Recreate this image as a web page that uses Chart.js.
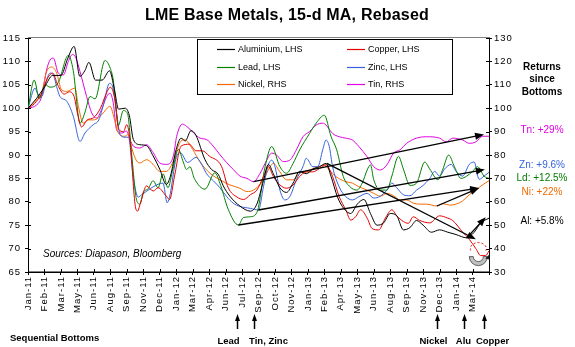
<!DOCTYPE html>
<html>
<head>
<meta charset="utf-8">
<script src="https://cdn.jsdelivr.net/npm/chart.js@4.4.1/dist/chart.umd.min.js"></script>
<style>
  html, body { margin: 0; padding: 0; background: #fff; }
</style>
</head>
<body>
<canvas id="metals" width="575" height="347"></canvas>
<script>
// category axis labels, one every ~30 trading days
const tickLabels = ['Jan-11', 'Feb-11', 'Mar-11', 'May-11', 'Jun-11', 'Aug-11', 'Sep-11', 'Nov-11', 'Dec-11',
  'Jan-12', 'Mar-12', 'Apr-12', 'Jun-12', 'Jul-12', 'Sep-12', 'Oct-12', 'Nov-12',
  'Jan-13', 'Feb-13', 'Apr-13', 'May-13', 'Jun-13', 'Aug-13', 'Sep-13', 'Nov-13', 'Dec-13',
  'Jan-14', 'Mar-14'];

// [period, value] - period counted in axis label steps, values rebased to 100
const aluminium = [[0,100],[0.5,102],[1,104.5],[1.5,107],[2.0,107],[2.4,110.5],[2.8,113.2],[3.15,106.8],[3.45,108],[3.7,109.8],
  [4.1,106],[4.5,106],[4.95,108],[5.25,104],[5.5,99.8],[5.9,100],[6.15,98.5],[6.4,93.3],[6.8,92.2],[7.2,92],[7.6,89.8],
  [8.0,87],[8.4,83.7],[8.65,85.5],[9.0,91.2],[9.3,93.6],[9.55,93],[9.9,95.2],[10.2,94.2],[10.75,89],[11.15,86.9],[11.55,85.9],
  [11.86,83.4],[12.26,81.2],[12.87,79.1],[13.5,78],[13.9,79.5],[14.3,84.5],[14.6,88],[14.9,86],[15.3,83],[15.7,82],[16.1,84],
  [16.5,86.5],[16.9,86],[17.3,87],[17.7,87.5],[18.1,88.2],[18.4,85.5],[18.8,81],[19.2,78.5],[19.6,77.5],[20.0,79.5],[20.4,80.5],
  [20.8,77.5],[21.2,75],[21.6,75.5],[22.0,77.5],[22.4,77],[22.8,74],[23.2,74.5],[23.6,76],[24.0,75],[24.5,73.5],[25.0,74],
  [25.5,73.5],[26.0,73],[26.65,72.3],[27.1,73.5],[27.5,75.5],[28,76.5]];

const copper = [[0,100],[0.4,101],[0.8,103],[1.2,106.5],[1.5,107.5],[1.8,105],[2.2,103],[2.5,103.5],[2.8,102.5],[3.0,99],
  [3.25,96],[3.6,97.5],[4.0,98],[4.4,100],[4.8,103.5],[5.0,104.5],[5.3,101.5],[5.5,95.5],[5.8,95],[6.0,96.5],[6.2,93],
  [6.5,79.5],[6.65,78],[6.85,80],[7.2,83.4],[7.6,82.3],[7.9,83],[8.4,81.2],[8.6,80.5],[8.9,85.5],[9.3,91.9],[9.8,92.3],
  [10.2,90.9],[10.6,90.9],[11.0,89.8],[11.75,87.6],[12.16,83],[12.7,81],[13.1,80.5],[13.5,81.5],[13.9,82.5],[14.3,85.4],
  [14.6,87.5],[14.9,85.4],[15.3,83.6],[15.7,82.9],[16.1,83.6],[16.5,85.4],[16.9,86.4],[17.3,86.4],[17.7,87.1],[18.1,87.9],
  [18.5,85.4],[18.9,81.1],[19.3,78.3],[19.6,76.1],[19.9,76.8],[20.2,78.3],[20.6,76.5],[20.9,74.3],[21.3,74],[21.7,76.5],
  [22.1,78.3],[22.4,77],[22.8,75.8],[23.1,75.4],[23.4,76.8],[23.8,76],[24.4,75.5],[25.0,77],[25.5,76.5],[25.8,76],
  [26.4,73.5],[26.8,72],[27.2,70],[27.5,68.5],[27.8,68.5],[28,69.5]];

const lead = [[0,100],[0.38,106],[0.69,102],[1.03,105],[1.34,104.5],[1.84,105.5],[2.45,111.3],[2.75,108],[3.16,96.8],
  [3.45,99],[3.77,102.5],[4.07,102],[4.68,110.2],[5.0,108.5],[5.18,106],[5.49,96.3],[5.79,99.5],[6.05,98.8],[6.3,90],
  [6.6,80.3],[6.8,79.5],[7.0,82],[7.3,82.8],[7.6,84.5],[7.9,83],[8.2,86],[8.5,83],[8.8,87],[9.13,91.2],[9.43,88.5],
  [9.63,86.9],[9.84,87.5],[10.1,85],[10.75,82.7],[11.35,86.2],[11.7,83.5],[12.16,78.4],[12.78,75.04],[13.07,76.6],
  [13.5,76.8],[13.9,77.7],[14.4,87.5],[14.8,91.8],[15.3,87.5],[15.7,86.1],[16.1,88.2],[16.5,91.1],[17.1,94.6],[17.5,96.8],
  [18.0,98.5],[18.4,94],[18.75,91.1],[19.15,85.4],[19.56,83.2],[19.97,82.5],[20.3,84],[20.6,86.8],[20.8,87.9],[21.0,84.7],
  [21.4,82.5],[21.8,82.5],[22.1,85.5],[22.5,89.7],[22.8,87],[23.2,83.5],[23.6,84],[24.1,88.5],[24.4,87],[24.9,84.7],
  [25.2,87],[25.55,90],[25.9,87.5],[26.3,85],[26.65,85.5],[27.0,86.5],[27.3,87.5],[27.7,85.5],[28,85]];

const zinc = [[0,100],[0.43,104.3],[0.57,103.2],[0.83,102.5],[1.13,106.1],[1.34,107.5],[1.54,107.1],[1.74,104.6],[1.94,102.5],
  [2.35,101.5],[2.75,98.3],[3.16,92.9],[3.46,94.7],[3.97,96.5],[4.3,97.5],[4.6,101],[4.95,105.3],[5.15,104.5],[5.38,99],
  [5.6,94.3],[5.9,93.8],[6.1,93.8],[6.4,85],[6.7,81],[6.9,81.5],[7.3,82.5],[7.6,83.2],[8.2,84],[8.45,79.8],[8.6,81],
  [9.0,89.4],[9.25,90.5],[9.7,88.4],[10.2,89.5],[10.45,88.6],[10.85,86],[11.25,84.5],[11.66,83],[12.07,81.1],[12.47,79.7],
  [12.88,79],[13.5,78.6],[14.0,78.25],[14.3,83.2],[14.6,87.9],[14.8,88.9],[15.0,87.5],[15.3,82.5],[15.6,80.4],[15.9,81.1],
  [16.3,84.7],[16.7,87.5],[16.9,89.3],[17.3,87.5],[17.6,87.5],[17.9,91.1],[18.1,93.2],[18.3,91.8],[18.5,87.5],[18.9,83.2],
  [19.3,81.1],[19.7,80.4],[20.1,81.1],[20.6,81.8],[21.0,80.8],[21.4,81.2],[21.8,82.5],[22.1,84],[22.4,83],[22.8,81.5],
  [23.2,81.3],[23.6,82.5],[24.0,83.5],[24.4,85],[24.7,86.5],[25.0,85.5],[25.3,87],[25.7,88],[26.0,86.5],[26.4,85.5],
  [26.8,88],[27.1,88.5],[27.4,84.8],[27.7,85.5],[28,86.3]];

// right-hand scale
const nickel = [[0,100],[0.53,103.6],[0.83,106.4],[1.13,115.6],[1.45,117.6],[1.74,115],[2.04,107.8],[2.35,107.2],[2.85,108.6],
  [3.06,100.8],[3.36,93.6],[3.66,95],[3.97,95],[4.27,95.8],[4.57,98],[4.98,100.8],[5.28,94.4],[5.49,89.4],[5.89,88],
  [6.09,88.8],[6.3,83],[6.6,77.4],[6.8,76.6],[7.2,78],[7.6,76],[8.0,73],[8.4,73],[8.8,77],[9.2,85],[9.5,86.6],[10.0,82.4],
  [10.45,77],[11.05,72.2],[11.66,69.4],[12.27,67.2],[12.87,65.8],[13.28,64.4],[13.7,65],[14.3,69.4],[14.7,75],[14.9,76.4],
  [15.3,72.8],[15.7,69.4],[16.1,69.4],[16.5,72.2],[16.9,72.8],[17.3,74.2],[17.7,75],[18.0,75.8],[18.3,73.6],[18.7,70.8],
  [19.3,68.6],[19.7,68],[20.1,66.4],[20.6,65],[21.0,63.6],[21.4,62.4],[21.8,63.6],[22.2,62.6],[22.6,60.8],[23.0,60.8],
  [23.4,59.4],[23.8,59],[24.2,59],[24.83,58.2],[25.2,59.2],[25.6,58.6],[26.0,59],[26.4,60.4],[26.8,63],[27.2,65],
  [27.6,67.2],[28,69]];

const tin = [[0,100],[0.53,101.4],[0.83,105],[1.13,116.4],[1.34,120.6],[1.54,121.4],[1.84,115],[2.15,114.2],[2.45,120],
  [2.7,123],[2.9,121.6],[3.16,115.6],[3.56,105],[3.87,98],[4.17,95.8],[4.47,99.4],[4.78,105],[4.98,106.4],[5.18,102.2],
  [5.38,90.8],[5.69,89.4],[5.99,90.2],[6.19,86.6],[6.4,83.8],[6.8,83],[7.2,84.4],[7.6,81],[8.0,76.6],[8.4,76],[8.83,79.6],
  [9.03,88],[9.38,93.2],[9.64,92.2],[10.04,89.6],[10.45,87.2],[10.85,86.6],[11.25,83.8],[11.65,80.2],[12.06,76.8],
  [12.47,73.8],[12.87,71],[13.3,70],[13.7,68.6],[14.1,72.2],[14.5,77.8],[14.8,80.8],[15.1,80],[15.5,77.2],[15.9,77.8],
  [16.3,82.2],[16.7,87.8],[17.1,90],[17.5,92.8],[17.9,93.6],[18.1,92.8],[18.5,89.2],[18.9,87.8],[19.3,87.2],[19.7,86.4],
  [20.1,83.6],[20.6,79.2],[21.0,75],[21.4,73.6],[21.8,75.8],[22.2,80.8],[22.6,82.2],[23.0,85],[23.6,87.2],[24.2,87.8],
  [25.0,87.2],[25.4,85.6],[25.8,87.2],[26.4,86.4],[26.8,85],[27.2,85.6],[27.6,88],[28,88]];

// trend arrows from each metal's bottom to the latest level
const trendArrows = [
  { axis: 'y2', from: [13.7, 68.6], to: [27.7, 88.8] },   // tin
  { axis: 'y', from: [13.99, 78.25], to: [27.75, 86.9] }, // zinc
  { axis: 'y', from: [12.78, 75.04], to: [27.4, 82.95] }, // lead
  { axis: 'y2', from: [24.83, 58.2], to: [27.4, 65.9] },  // nickel
  { axis: 'y', from: [26.65, 72.3], to: [27.8, 76.7] },   // aluminium
  { axis: 'y', from: [18.15, 88.2], to: [27.2, 72.0] }    // downtrend off the Feb-13 peak
];
const copperLow = [27.35, 70];

// where each sequential bottom happened
const bottomNames = ['Lead', 'Tin, Zinc', 'Nickel', 'Alu', 'Copper'];
const bottomPeriods = [12.72, 13.73, 24.83, 26.5, 27.72];

const returnTexts = ['Tn: +29%', 'Zn: +9.6%', 'Ld: +12.5%', 'Ni: +22%', 'Al: +5.8%'];

const FONT = '"Liberation Sans", Arial, sans-serif';
const tickFont = { family: FONT, size: 9.5 };

const series = [
  { label: 'Aluminium, LHS', data: aluminium, color: '#000000', axis: 'y' },
  { label: 'Copper, LHS', data: copper, color: '#e60000', axis: 'y' },
  { label: 'Lead, LHS', data: lead, color: '#008000', axis: 'y' },
  { label: 'Zinc, LHS', data: zinc, color: '#3562dc', axis: 'y' },
  { label: 'Nickel, RHS', data: nickel, color: '#f46a00', axis: 'y2' },
  { label: 'Tin, RHS', data: tin, color: '#e000e0', axis: 'y2' }
];

function arrow(ctx, x1, y1, x2, y2, head, width) {
  const a = Math.atan2(y2 - y1, x2 - x1);
  const c = Math.cos(a), s = Math.sin(a);
  ctx.beginPath();
  ctx.moveTo(x1, y1);
  ctx.lineTo(x2 - c * head * 0.8, y2 - s * head * 0.8);
  ctx.stroke();
  ctx.beginPath();
  ctx.moveTo(x2, y2);
  ctx.lineTo(x2 - head * c + width / 2 * s, y2 - head * s - width / 2 * c);
  ctx.lineTo(x2 - head * c - width / 2 * s, y2 - head * s + width / 2 * c);
  ctx.closePath();
  ctx.fill();
}

const decor = {
  id: 'decor',
  beforeDraw(chart) {
    const { ctx, chartArea: a } = chart;
    ctx.save();
    ctx.strokeStyle = '#808080';
    ctx.lineWidth = 1;
    ctx.strokeRect(a.left + 0.5, a.top - 0.5, a.right - a.left, a.bottom - a.top);
    ctx.restore();
    ctx.letterSpacing = '1px';
  },
  beforeDatasetsDraw(chart) {
    chart.ctx.letterSpacing = '0px';
  },
  afterDraw(chart) {
    const { ctx, chartArea: a, scales } = chart;
    const xs = scales.x;
    ctx.save();
    ctx.letterSpacing = '0px';

    // inner half of the cross tick marks
    ctx.strokeStyle = '#000';
    ctx.lineWidth = 1;
    ctx.beginPath();
    xs.ticks.forEach(t => {
      const px = Math.round(xs.getPixelForValue(t.value)) + 0.5;
      ctx.moveTo(px, a.bottom - 3); ctx.lineTo(px, a.bottom);
    });
    scales.y.ticks.forEach(t => {
      const py = Math.round(scales.y.getPixelForValue(t.value)) + 0.5;
      ctx.moveTo(a.left, py); ctx.lineTo(a.left + 3, py);
    });
    scales.y2.ticks.forEach(t => {
      const py = Math.round(scales.y2.getPixelForValue(t.value)) + 0.5;
      ctx.moveTo(a.right - 3, py); ctx.lineTo(a.right, py);
    });
    ctx.stroke();

    // title
    ctx.fillStyle = '#000';
    ctx.textAlign = 'center';
    ctx.textBaseline = 'middle';
    ctx.font = 'bold 16px ' + FONT;
    ctx.letterSpacing = '0.2px';
    ctx.fillText('LME Base Metals, 15-d MA, Rebased', 287, 16);
    ctx.letterSpacing = '0px';

    // legend box inside the plot
    ctx.fillStyle = '#fff';
    ctx.fillRect(197.5, 39.5, 255, 55);
    ctx.strokeStyle = '#000';
    ctx.strokeRect(197.5, 39.5, 255, 55);
    ctx.font = '9px ' + FONT;
    ctx.textAlign = 'left';
    const colX = [217, 347], rowY = [49.5, 67.5, 84.5];
    series.forEach((s, i) => {
      const x = colX[i % 2], y = rowY[Math.floor(i / 2)];
      ctx.strokeStyle = s.color;
      ctx.lineWidth = 1.2;
      ctx.beginPath(); ctx.moveTo(x, y); ctx.lineTo(x + 18, y); ctx.stroke();
      ctx.fillStyle = '#000';
      ctx.fillText(s.label, x + 21, y);
    });
    ctx.lineWidth = 1;

    // source note
    ctx.font = 'italic 10px ' + FONT;
    ctx.fillText('Sources: Diapason, Bloomberg', 43, 254);

    // trend arrows
    ctx.strokeStyle = '#000';
    ctx.fillStyle = '#000';
    ctx.lineWidth = 1.3;
    trendArrows.forEach(t => {
      const ys = scales[t.axis];
      arrow(ctx, xs.getPixelForValue(t.from[0]), ys.getPixelForValue(t.from[1]),
        xs.getPixelForValue(t.to[0]), ys.getPixelForValue(t.to[1]), 9, 7);
    });

    // copper rebound marker
    const cx = xs.getPixelForValue(copperLow[0]);
    const cy = scales.y.getPixelForValue(copperLow[1]);
    ctx.beginPath();
    ctx.arc(cx, cy + 8, 9, 0, Math.PI, false);
    ctx.arc(cx, cy + 8, 5, Math.PI, 0, true);
    ctx.closePath();
    ctx.fillStyle = '#c0c0c0';
    ctx.fill();
    ctx.strokeStyle = '#404040';
    ctx.lineWidth = 0.8;
    ctx.stroke();
    ctx.fillStyle = '#202020';
    ctx.beginPath();
    ctx.moveTo(cx + 11, cy + 6);
    ctx.lineTo(cx + 7, cy + 10);
    ctx.lineTo(cx + 11, cy + 11);
    ctx.closePath();
    ctx.fill();
    ctx.setLineDash([2, 2]);
    ctx.strokeStyle = '#e60000';
    ctx.lineWidth = 1;
    ctx.beginPath();
    ctx.ellipse(cx, cy, 8, 6, 0, Math.PI * 0.9, Math.PI * 2.1);
    ctx.stroke();
    ctx.setLineDash([]);

    // right-hand commentary
    ctx.textAlign = 'center';
    ctx.fillStyle = '#000';
    ctx.font = 'bold 10px ' + FONT;
    ['Returns', 'since', 'Bottoms'].forEach((s, i) => ctx.fillText(s, 542, 67 + i * 12.7));
    const retColors = ['#e000e0', '#3562dc', '#008000', '#f46a00', '#000'];
    const retY = [130, 165, 178, 192, 221];
    ctx.font = '10px ' + FONT;
    returnTexts.forEach((s, i) => {
      ctx.fillStyle = retColors[i];
      ctx.fillText(s, 542, retY[i]);
    });

    // sequential bottoms below the axis
    ctx.fillStyle = '#000';
    ctx.strokeStyle = '#000';
    ctx.lineWidth = 1.5;
    ctx.font = 'bold 9.5px ' + FONT;
    ctx.textAlign = 'left';
    ctx.fillText('Sequential Bottoms', 10, 338);
    ctx.textAlign = 'center';
    const labelShift = [-9, 14, -4, -1, 8];
    bottomPeriods.forEach((p, i) => {
      const x = Math.round(xs.getPixelForValue(p)) + 0.5;
      arrow(ctx, x, 329, x, 314, 7, 5);
      ctx.fillText(bottomNames[i], x + labelShift[i], 341);
    });
    ctx.restore();
  }
};

new Chart(document.getElementById('metals'), {
  type: 'line',
  data: {
    datasets: series.map(s => ({
      label: s.label,
      data: s.data.map(([x, y]) => ({ x, y })),
      yAxisID: s.axis,
      borderColor: s.color,
      borderWidth: 1,
      pointRadius: 0,
      fill: false,
      cubicInterpolationMode: 'monotone'
    }))
  },
  options: {
    responsive: false,
    animation: false,
    devicePixelRatio: 1,
    layout: { padding: { top: 38, left: 0, right: 0, bottom: 0 } },
    plugins: { legend: { display: false }, tooltip: { enabled: false } },
    scales: {
      x: {
        type: 'linear',
        min: 0,
        max: 28,
        afterFit: s => { s.height = 75; },
        ticks: {
          stepSize: 1,
          autoSkip: false,
          maxRotation: 90,
          minRotation: 90,
          padding: 1,
          color: '#000',
          font: tickFont,
          callback: v => tickLabels[v] ?? ''
        },
        grid: { drawOnChartArea: false, color: '#000', tickLength: 3 },
        border: { color: '#000', width: 1 }
      },
      y: {
        position: 'left',
        min: 65,
        max: 115,
        afterFit: s => { s.width = 28; },
        ticks: { stepSize: 5, padding: 4, color: '#000', font: tickFont },
        grid: { drawOnChartArea: false, color: '#000', tickLength: 3 },
        border: { color: '#000', width: 1 }
      },
      y2: {
        position: 'right',
        min: 30,
        max: 130,
        afterFit: s => { s.width = 86; },
        ticks: { stepSize: 10, padding: 2, color: '#000', font: tickFont },
        grid: { drawOnChartArea: false, color: '#000', tickLength: 3 },
        border: { color: '#000', width: 1 }
      }
    }
  },
  plugins: [decor]
});
</script>
</body>
</html>
